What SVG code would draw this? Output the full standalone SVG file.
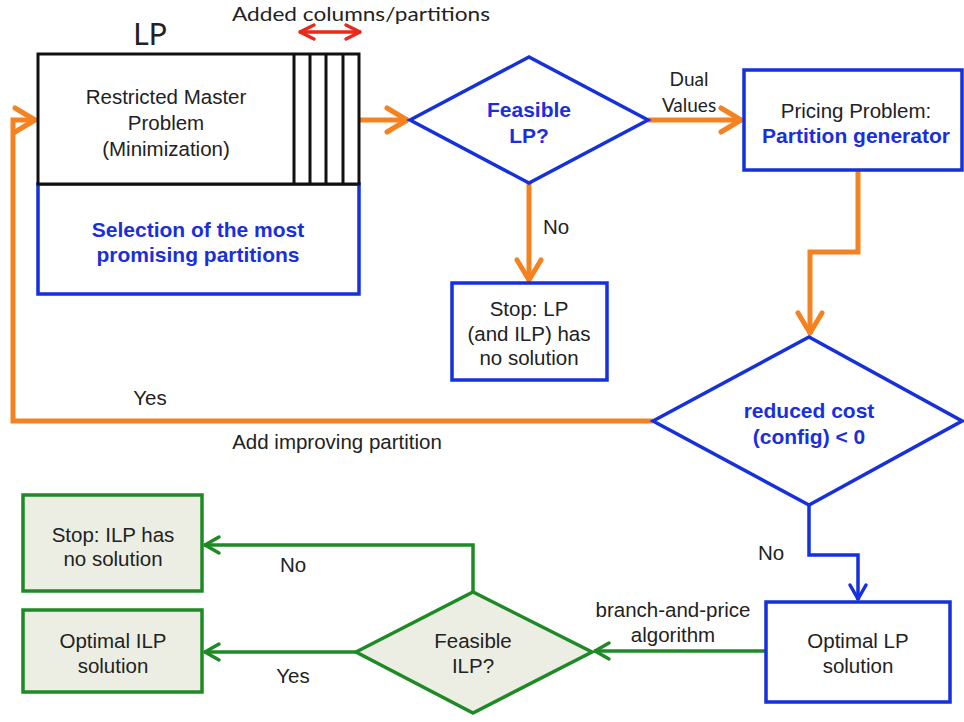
<svg xmlns="http://www.w3.org/2000/svg" width="964" height="722" viewBox="0 0 964 722">
<style>
.t{font-family:"Liberation Sans",Arial,sans-serif;font-size:20.5px;fill:#222;text-anchor:middle}
.b{font-family:"Liberation Sans",Arial,sans-serif;font-weight:bold;font-size:21px;fill:#1a2fdc;text-anchor:middle}
.c{font-family:Lato,"Open Sans",sans-serif;fill:#222;text-anchor:middle}
.blue{fill:#fff;stroke:#1530dc;stroke-width:3.5}
.green{fill:#eceee3;stroke:#1e8a26;stroke-width:3.5}
.or{fill:none;stroke:#f58220;stroke-width:5}
.bl{fill:none;stroke:#1530dc;stroke-width:3.5}
.gr{fill:none;stroke:#1e8a26;stroke-width:3.5}
</style>
<defs>
<marker id="aO" markerUnits="userSpaceOnUse" viewBox="-26 -16 30 32" refX="1" refY="0" markerWidth="30" markerHeight="32" orient="auto" overflow="visible">
<path d="M-20,-12 L0,0 L-20,12" fill="none" stroke="#f58220" stroke-width="5" stroke-linejoin="round" stroke-linecap="round"/>
</marker>
<marker id="aB" markerUnits="userSpaceOnUse" viewBox="-18 -12 22 24" refX="1" refY="0" markerWidth="22" markerHeight="24" orient="auto" overflow="visible">
<path d="M-14,-8 L0,0 L-14,8" fill="none" stroke="#1530dc" stroke-width="3.5" stroke-linejoin="round" stroke-linecap="round"/>
</marker>
<marker id="aG" markerUnits="userSpaceOnUse" viewBox="-18 -12 22 24" refX="1" refY="0" markerWidth="22" markerHeight="24" orient="auto" overflow="visible">
<path d="M-14,-8 L0,0 L-14,8" fill="none" stroke="#1e8a26" stroke-width="3.5" stroke-linejoin="round" stroke-linecap="round"/>
</marker>
<marker id="aR" markerUnits="userSpaceOnUse" viewBox="-18 -12 22 24" refX="1" refY="0" markerWidth="22" markerHeight="24" orient="auto-start-reverse" overflow="visible">
<path d="M-14,-7 L0,0 L-14,7" fill="none" stroke="#e8291c" stroke-width="3.5" stroke-linejoin="round" stroke-linecap="round"/>
</marker>
</defs>
<rect width="964" height="722" fill="#fff"/>

<g id="connectors">
<path class="or" d="M359,120 H408" marker-end="url(#aO)"/>
<path class="or" d="M648,120 H742" marker-end="url(#aO)"/>
<path class="or" d="M529,183 V281" marker-end="url(#aO)"/>
<path class="or" d="M858,171 V252 H810 V334" marker-end="url(#aO)"/>
<path class="or" d="M653,421 H13 V120 H36" marker-end="url(#aO)"/>
<path class="bl" d="M809,505 V555 H858 V600" marker-end="url(#aB)"/>
<path class="gr" d="M766,651 H594" marker-end="url(#aG)"/>
<path class="gr" d="M473,592 V545 H204" marker-end="url(#aG)"/>
<path class="gr" d="M356,652 H204" marker-end="url(#aG)"/>
<path d="M299,32 H361" fill="none" stroke="#e8291c" stroke-width="3.5" marker-start="url(#aR)" marker-end="url(#aR)"/>
<text class="c" x="689" y="86" font-size="19">Dual</text>
<text class="c" x="689" y="112" font-size="19">Values</text>
<text class="t" x="556" y="234">No</text>
<text class="t" x="150" y="405">Yes</text>
<text class="t" x="337" y="449">Add improving partition</text>
<text class="t" x="771" y="560">No</text>
<text class="t" x="673" y="617">branch-and-price</text>
<text class="t" x="673" y="642">algorithm</text>
<text class="t" x="293" y="572">No</text>
<text class="t" x="293" y="683">Yes</text>
</g>

<g id="lp-title">
<text class="c" x="150" y="45" font-size="30">LP</text>
<text class="c" x="361" y="21" font-size="19" textLength="258" lengthAdjust="spacingAndGlyphs">Added columns/partitions</text>
</g>

<g id="selection">
<rect class="blue" x="38" y="184" width="321" height="110"/>
<text class="b" x="198" y="237">Selection of the most</text>
<text class="b" x="198" y="262">promising partitions</text>
</g>

<g id="rmp">
<rect x="38" y="54" width="321" height="130" fill="#fff" stroke="#111" stroke-width="3"/>
<path d="M294,54 V184 M310,54 V184 M326,54 V184 M343,54 V184" stroke="#111" stroke-width="3"/>
<text class="t" x="166" y="104">Restricted Master</text>
<text class="t" x="166" y="130">Problem</text>
<text class="t" x="166" y="156">(Minimization)</text>
</g>

<g id="feasible-lp">
<polygon class="blue" points="410,120 529,57 648,120 529,183"/>
<text class="b" x="529" y="117">Feasible</text>
<text class="b" x="529" y="143">LP?</text>
</g>

<g id="pricing">
<rect class="blue" x="744" y="70" width="218" height="100"/>
<text class="t" x="856" y="118">Pricing Problem:</text>
<text class="b" x="856" y="143">Partition generator</text>
</g>

<g id="stop-lp">
<rect class="blue" x="452" y="283" width="155" height="97"/>
<text class="t" x="529" y="316">Stop: LP</text>
<text class="t" x="529" y="341">(and ILP) has</text>
<text class="t" x="529" y="365">no solution</text>
</g>

<g id="reduced-cost">
<polygon class="blue" points="653,421 809,337 962,421 809,505"/>
<text class="b" x="809" y="418">reduced cost</text>
<text class="b" x="809" y="444">(config) &lt; 0</text>
</g>

<g id="optimal-lp">
<rect class="blue" x="766" y="602" width="184" height="100"/>
<text class="t" x="858" y="648">Optimal LP</text>
<text class="t" x="858" y="673">solution</text>
</g>

<g id="feasible-ilp">
<polygon class="green" points="356,652 473,592 592,652 473,713"/>
<text class="t" x="473" y="648">Feasible</text>
<text class="t" x="473" y="673">ILP?</text>
</g>

<g id="stop-ilp">
<rect class="green" x="23" y="495" width="179" height="96"/>
<text class="t" x="113" y="542">Stop: ILP has</text>
<text class="t" x="113" y="566">no solution</text>
</g>

<g id="optimal-ilp">
<rect class="green" x="23" y="610" width="179" height="82"/>
<text class="t" x="113" y="648">Optimal ILP</text>
<text class="t" x="113" y="673">solution</text>
</g>
</svg>
